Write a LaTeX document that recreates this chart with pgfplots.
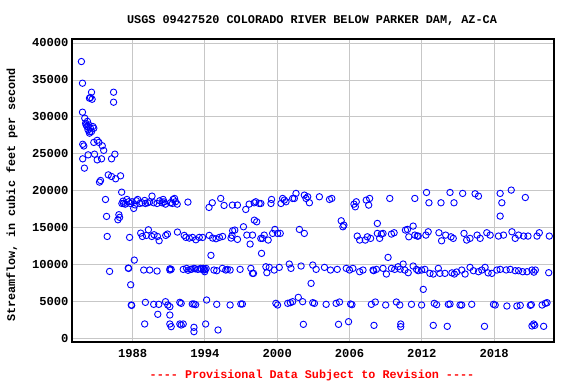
\documentclass[border=0pt]{standalone}
\usepackage{fontspec}
\setmonofont{Liberation Mono}
\usepackage{pgfplots}
\pgfplotsset{compat=1.18}
\pgfplotstableread{
x y
1983.75 37490
1983.84 34560
1984.59 33340
1984.50 32620
1984.42 32530
1984.64 32390
1986.42 33340
1986.42 31990
1983.84 30640
1984.03 29830
1984.10 29150
1984.22 28700
1984.36 28920
1984.50 28470
1984.70 28700
1984.30 28250
1984.14 28920
1984.42 27800
1984.59 28020
1984.78 28470
1984.25 29400
1984.45 28000
1983.86 26300
1983.95 26070
1984.78 26550
1985.06 26830
1985.20 26550
1985.48 26100
1985.60 25470
1984.31 24870
1984.84 24960
1985.06 24190
1985.42 24330
1986.25 24330
1986.53 24960
1983.86 24330
1984.00 23070
1985.98 22160
1986.25 21940
1986.59 21630
1987.00 22030
1985.25 21180
1985.34 21400
1987.09 19820
1985.75 18830
1985.84 16540
1986.86 16770
1986.78 16090
1986.92 16410
1985.89 13830
1988.14 10630
1986.09 9100
1987.64 9550
1987.84 7290
1987.92 4500
1989.00 1990
1987.11 18290
1987.25 18290
1987.39 18200
1987.53 18835
1987.67 18520
1987.81 18290
1987.95 18520
1988.09 17620
1988.31 18655
1988.42 18835
1988.59 18290
1988.78 18385
1989.06 18290
1989.25 18385
1989.42 18520
1989.61 19285
1989.75 18385
1990.03 18290
1990.25 18655
1990.45 18385
1990.53 18835
1990.73 18200
1991.14 18385
1991.36 18835
1991.48 18970
1991.56 18520
1991.70 18200
1992.59 18475
1994.34 17755
1994.61 18385
1995.31 18970
1995.59 18025
1996.28 18070
1996.70 18070
1997.39 17480
1997.67 18200
1998.22 18520
1998.50 18290
1987.20 18600
1988.20 18100
1989.00 18700
1990.60 18500
1991.30 18300
1987.75 13700
1988.67 14280
1988.81 13830
1989.14 13970
1989.31 14730
1989.59 13830
1989.78 14060
1990.06 13830
1990.20 13250
1990.75 13970
1990.89 14150
1991.72 14420
1992.28 13970
1992.42 13700
1992.70 13610
1992.97 13700
1993.25 13380
1993.53 13700
1993.81 13700
1994.36 13970
1994.50 11270
1994.64 13610
1994.92 13520
1995.20 13700
1995.47 13830
1996.17 13610
1996.25 13970
1996.30 14600
1996.48 14690
1996.70 13430
1997.20 15140
1997.48 14015
1997.75 12800
1997.95 14015
1998.10 16030
1998.30 15810
1998.64 13560
1998.70 11540
1987.67 9510
1988.92 9285
1989.42 9285
1990.03 9150
1991.09 9285
1991.20 9375
1992.20 9375
1992.48 9510
1992.81 9375
1993.09 9510
1993.42 9375
1993.64 9510
1993.86 9510
1993.92 9285
1993.98 9060
1994.75 9285
1994.98 9195
1995.45 9510
1995.73 9285
1995.86 9375
1996.09 9285
1996.92 9375
1997.81 9510
1998.03 8835
1992.90 9400
1993.20 9450
1993.70 9400
1994.00 9350
1994.10 9500
1992.60 9250
1991.10 9450
1987.89 4555
1989.06 4915
1989.75 4645
1990.17 4645
1990.73 5005
1990.92 4555
1991.09 4330
1991.92 4915
1992.03 4780
1992.95 4690
1993.09 4690
1993.23 4600
1994.14 5230
1994.98 4645
1996.09 4555
1996.98 4690
1997.11 4690
1990.09 3295
1991.09 3200
1991.09 1985
1991.20 1625
1991.92 1985
1992.03 1850
1992.20 1985
1993.09 1535
1993.09 950
1994.06 1985
1995.09 1175
1998.09 18385
1998.64 18290
1999.48 18290
1999.53 18835
2000.31 18290
2000.45 18970
2000.59 18745
2000.73 18520
2001.28 18970
2001.42 18970
2001.56 19650
2002.25 19420
2002.39 18970
2002.53 19195
2002.67 18385
2003.50 19195
2004.34 18835
2004.53 18970
2005.31 15950
2005.45 15140
2005.53 15365
2006.37 18200
2006.48 17840
2006.56 18520
2007.39 18745
2007.59 18070
2007.67 18970
2008.31 15590
2009.34 18970
2011.42 18970
2012.39 19780
2012.59 18385
2013.59 18385
2014.34 19780
2014.67 18385
2015.39 19650
2016.42 19600
2016.70 19285
2018.50 19650
2018.64 18385
2018.50 16580
2019.42 20100
2020.59 19100
1998.78 13570
1998.92 14010
1999.25 13340
1999.62 14240
1999.81 14780
2000.03 14240
2000.25 14240
2001.84 14780
2002.25 14240
2006.64 13880
2006.84 13340
2007.31 13340
2007.48 13780
2007.75 13570
2008.31 14240
2008.50 13570
2008.64 14150
2008.78 14240
2009.48 14150
2009.70 14330
2010.64 14690
2010.81 14780
2010.92 13780
2011.28 15230
2011.42 14010
2011.62 13880
2011.70 13880
2012.34 14010
2012.53 14460
2013.42 14330
2013.64 13240
2013.98 14010
2014.42 13780
2014.61 13570
2015.50 14240
2015.72 13340
2016.00 13570
2016.59 14010
2016.84 13570
2017.39 14330
2017.67 14010
2018.36 13880
2018.78 14010
2019.48 14460
2019.75 13570
2020.03 14010
2020.45 13880
2020.81 13880
2021.56 13880
2021.75 14330
2022.58 13880
1997.95 8835
1999.06 9730
1999.14 8925
1999.34 9645
1999.75 9285
2000.17 9645
2001.00 10095
2001.14 9510
2001.98 9825
2002.81 7480
2002.95 9960
2003.23 9375
2003.92 9645
2004.42 9285
2004.98 9375
2005.73 9510
2006.00 9285
2006.28 9510
2006.84 9060
2007.12 9285
2007.95 9285
2008.23 9375
2008.78 9510
2009.06 8745
2009.20 10995
2009.48 9510
2009.75 9375
2010.03 9730
2010.45 10095
2010.59 9285
2010.87 8925
2011.28 9825
2011.56 9375
2011.98 9285
2012.12 6670
2012.25 9375
2012.67 8835
2012.95 8745
2013.37 9510
2013.50 8835
2013.92 8835
2014.70 8745
2014.89 9015
2015.31 9285
2015.59 8745
2016.00 9645
2016.28 9195
2016.70 9060
2016.98 9285
2017.25 9645
2017.81 8835
2018.23 9285
2018.50 9375
2019.34 9375
2019.75 9195
2020.03 9195
2020.37 9060
2020.73 9060
2021.14 9285
2021.42 9285
2022.53 8925
2008.00 9200
2010.20 9400
2011.70 9200
2014.50 8900
2017.50 8900
2019.00 9300
2021.30 9000
1999.89 4780
2000.03 4555
2000.87 4780
2001.09 4870
2001.28 5005
2001.75 5590
2002.11 5005
2002.95 4870
2003.09 4780
2004.06 4645
2004.89 4780
2005.17 4960
2006.09 4690
2006.20 4600
2007.81 4645
2008.14 4960
2009.00 4555
2009.89 4960
2010.17 4555
2011.14 4645
2011.98 4555
2013.03 4780
2013.23 4600
2014.20 4645
2014.34 4690
2015.17 4555
2015.31 4555
2016.14 4645
2017.95 4645
2018.09 4555
2019.06 4420
2019.89 4420
2020.17 4510
2021.00 4510
2021.09 4600
2021.98 4555
2022.25 4780
2022.39 4870
2002.17 1940
2005.09 1940
2005.92 2300
2008.03 1800
2010.25 1985
2010.25 1625
2012.95 1800
2014.11 1670
2017.20 1670
2021.14 1720
2021.28 1985
2021.37 1800
2022.11 1670
}\flowdata
\begin{document}
\begin{tikzpicture}[x=1bp,y=1bp]
\useasboundingbox (0,0) rectangle (576,384);
\begin{axis}[
  at={(72bp,42bp)}, anchor=south west,
  width=482bp, height=303bp, scale only axis,
  xmin=1982.97, xmax=2022.97,
  ymin=-450, ymax=40540,
  xtick={1988,1994,2000,2006,2012,2018},
  ytick={0,5000,10000,15000,20000,25000,30000,35000,40000},
  grid=major,
  major grid style={color=black!22, line width=0.9pt},
  axis line style={black, line width=1.1pt},
  tick style={draw=none},
  scaled y ticks=false,
  /pgf/number format/1000 sep={},
  /pgf/number format/assume math mode=true,
  ticklabel style={font=\ttfamily\bfseries\fontsize{12.2}{13}\selectfont},
  xticklabel style={yshift=-4bp},
  yticklabel style={xshift=0bp},
  clip=false,
]
\addplot[only marks, mark=o, mark size=3.2bp, color=blue, mark options={line width=0.9pt}] table[x=x,y=y] {\flowdata};
\end{axis}
\node[font=\ttfamily\bfseries\fontsize{11.9}{12}\selectfont] at (312,363) {USGS 09427520 COLORADO RIVER BELOW PARKER DAM, AZ-CA};
\node[rotate=90, font=\ttfamily\bfseries\fontsize{11.8}{12}\selectfont] at (12,189) {Streamflow, in cubic feet per second};
\node[text=red, font=\ttfamily\bfseries\fontsize{11.8}{12}\selectfont] at (312,9) {---- Provisional Data Subject to Revision ----};
\end{tikzpicture}
\end{document}
